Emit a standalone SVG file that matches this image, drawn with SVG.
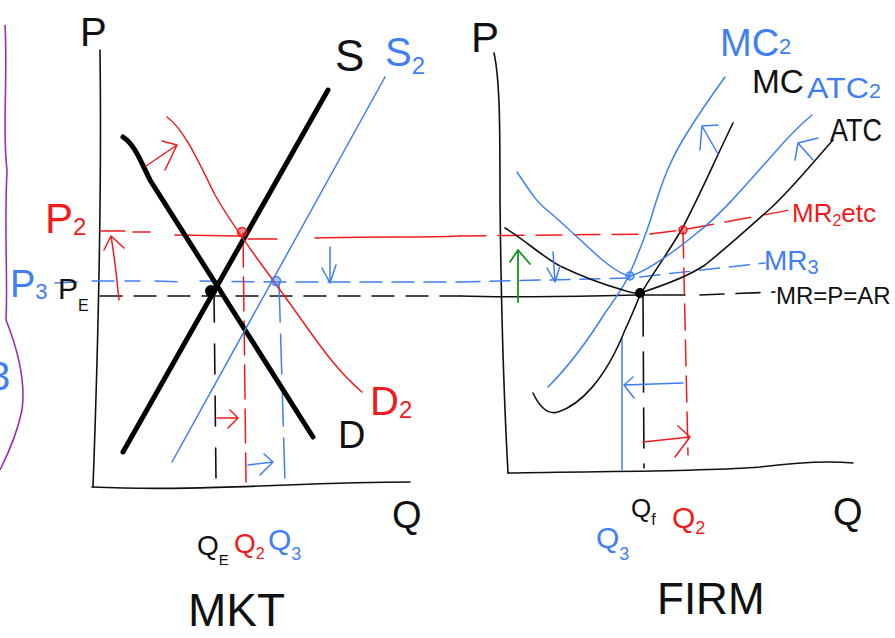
<svg xmlns="http://www.w3.org/2000/svg" width="895" height="638" viewBox="0 0 895 638">
<defs>
<style>
.k{stroke:#111;fill:none;stroke-width:1.6;stroke-linecap:round;stroke-linejoin:round}
.kt{stroke:#000;fill:none;stroke-width:5;stroke-linecap:round}
.r{stroke:#f21b1b;fill:none;stroke-width:1.5;stroke-linecap:round;stroke-linejoin:round}
.b{stroke:#3f7ff2;fill:none;stroke-width:1.5;stroke-linecap:round;stroke-linejoin:round}
.g{stroke:#15961f;fill:none;stroke-width:1.8;stroke-linecap:round;stroke-linejoin:round}
.p{stroke:#9a2fb5;fill:none;stroke-width:1.6}
text{font-family:"Liberation Sans","DejaVu Sans",sans-serif;font-weight:normal}
.tk{fill:#111}.tr{fill:#f21b1b}.tb{fill:#3f7ff2}
</style>
</defs>
<rect width="895" height="638" fill="#fff"/>

<!-- purple margin line -->
<path class="p" d="M5,25 C8,80 2,130 7,170 C4,230 8,280 6,320 C18,350 26,380 22,410 C18,430 10,450 0,470"/>
<text class="tb" x="-12" y="390" font-size="40">3</text>

<!-- MARKET PANEL -->
<g id="market-axes">
<path class="k" d="M100,50 C102,200 98,350 93,487"/>
<path class="k" d="M92,487 C200,492 300,482 410,482"/>
<text class="tk" x="80" y="46" font-size="40">P</text>
<text class="tk" x="392" y="528" font-size="38">Q</text>
</g>

<g id="market-guides">
<path class="r" d="M100,231 L125,231 M133,232 L150,232 M175,235 L240,236 M248,239 L277,239 M315,238 C380,236 420,238 460,236"/>
<path class="b" d="M55,283 L80,282 M92,281 L115,281 M125,281 L140,281 M155,281 L185,282 M200,281 L275,282 L460,282" stroke-dasharray="22 10"/>
<path class="k" d="M100,296 L460,296" stroke-dasharray="22 12"/>
<path class="k" d="M214,292 L216,480" stroke-dasharray="30 22"/>
<path class="r" d="M243,233 L246,482" stroke-dasharray="34 10"/>
<path class="b" d="M279,282 L285,482" stroke-dasharray="40 12"/>
</g>

<g id="market-curves">
<path class="kt" d="M123,452 L328,90"/>
<path class="kt" d="M123,137 C135,145 140,160 150,180 L313,437"/>
<path class="b" d="M172,462 L385,77"/>
<path class="r" d="M167,117 C185,130 200,165 215,195 C235,230 255,255 280,290 C310,330 330,365 362,392"/>
<circle cx="211" cy="291" r="6" fill="#000"/>
<circle cx="242" cy="232" r="4.5" fill="#f21b1b" fill-opacity="0.5" stroke="#f21b1b" stroke-width="1.5"/>
<circle cx="276" cy="281" r="4.5" fill="#3f7ff2" fill-opacity="0.4" stroke="#3f7ff2" stroke-width="1.5"/>
</g>

<g id="market-arrows">
<path class="r" d="M146,166 L177,145 M162,141 L177,145 L165,170"/>
<path class="r" d="M119,300 C117,280 115,260 111,236 M104,250 L111,236 L124,248"/>
<path class="b" d="M330,247 L330,283 M322,268 L330,283 L336,265"/>
<path class="r" d="M217,418 L238,418 M230,410 L238,418 L228,428"/>
<path class="b" d="M248,465 L273,462 M264,454 L273,462 L260,475"/>
</g>

<g id="market-labels">
<text class="tk" x="335" y="71" font-size="44">S</text>
<text class="tb" x="385" y="66" font-size="40">S<tspan font-size="24" dy="8">2</tspan></text>
<text class="tr" x="370" y="415" font-size="40">D<tspan font-size="24" dy="3">2</tspan></text>
<text class="tk" x="338" y="448" font-size="38">D</text>
<text class="tr" x="45" y="233" font-size="42">P<tspan font-size="24" dy="2">2</tspan></text>
<text class="tb" x="10" y="297" font-size="38">P<tspan font-size="22" dy="2">3</tspan></text>
<text class="tk" x="58" y="299" font-size="30">P<tspan font-size="16" dy="12">E</tspan></text>
<text class="tk" x="197" y="555" font-size="28">Q<tspan font-size="15" dy="10">E</tspan></text>
<text class="tr" x="234" y="553" font-size="28">Q<tspan font-size="16" dy="6">2</tspan></text>
<text class="tb" x="268" y="550" font-size="30">Q<tspan font-size="18" dy="10">3</tspan></text>
<text class="tk" x="188" y="626" font-size="46">MKT</text>
</g>

<!-- FIRM PANEL -->
<g id="firm-axes">
<path class="k" d="M494,53 C500,80 500,130 500,200 C501,300 504,400 508,473"/>
<path class="k" d="M508,473 C600,471 700,472 760,467 C800,462 830,461 853,463"/>
<text class="tk" x="471" y="52" font-size="42">P</text>
<text class="tk" x="833" y="525" font-size="38">Q</text>
</g>

<g id="firm-guides">
<path class="r" d="M460,236 L650,234 L682,230 L790,210" stroke-dasharray="26 12"/>
<path class="b" d="M460,282 L630,278 L765,263" stroke-dasharray="20 10"/>
<path class="k" d="M460,296 C520,298 580,296 640,295 L685,295"/>
<path class="k" d="M700,295 L775,292" stroke-dasharray="24 12"/>
<path class="b" d="M622,338 L622,470"/>
<path class="k" d="M643,296 L644,468" stroke-dasharray="40 16"/>
<path class="r" d="M683,232 L688,455" stroke-dasharray="26 10"/>
</g>

<g id="firm-curves">
<path class="b" d="M548,387 C565,370 585,345 605,313 C618,295 625,285 630,273 C640,250 648,230 655,205 C663,180 670,160 687,133 C700,112 712,95 725,77"/>
<path class="k" d="M533,393 C540,408 548,415 558,412 C580,405 605,380 625,330 C632,315 636,305 640,295 C655,270 670,250 683,227 C700,195 715,160 733,123"/>
<path class="b" d="M517,172 C528,188 536,202 547,210 C565,225 580,240 600,258 C612,268 622,275 630,276 C645,272 670,255 697,233 C720,215 740,192 777,150 C790,135 800,125 812,115"/>
<path class="k" d="M505,228 C525,240 540,255 560,266 C585,278 605,285 623,290 C632,293 636,294 640,293 C665,285 690,275 705,265 C730,245 752,225 772,207 C795,185 815,160 833,140"/>
<circle cx="640" cy="293" r="5" fill="#000"/>
<circle cx="630" cy="276" r="4" fill="#3f7ff2" fill-opacity="0.4" stroke="#3f7ff2" stroke-width="1.5"/>
<circle cx="683" cy="230" r="4" fill="#f21b1b" fill-opacity="0.5" stroke="#f21b1b" stroke-width="1.5"/>
</g>

<g id="firm-arrows">
<path class="g" d="M518,302 L518,250 M510,262 L518,250 L530,264"/>
<path class="b" d="M553,252 L555,282 M547,268 L555,282 L560,266"/>
<path class="b" d="M718,154 L702,126 M700,150 L702,126 L718,125"/>
<path class="b" d="M813,160 L798,143 M795,160 L798,143 L818,138"/>
<path class="b" d="M683,383 L624,385 M633,377 L624,385 L634,398"/>
<path class="r" d="M643,442 L690,437 M678,426 L690,437 L675,457"/>
</g>

<g id="firm-labels">
<text class="tb" x="720" y="56" font-size="38">MC<tspan font-size="22" dy="-2">2</tspan></text>
<text class="tk" x="752" y="93" font-size="34" textLength="52" lengthAdjust="spacingAndGlyphs">MC</text>
<text class="tb" x="807" y="98" font-size="30" textLength="74" lengthAdjust="spacingAndGlyphs">ATC<tspan font-size="20">2</tspan></text>
<text class="tk" x="830" y="141" font-size="32" textLength="52" lengthAdjust="spacingAndGlyphs">ATC</text>
<text class="tr" x="792" y="222" font-size="26">MR<tspan font-size="16" dy="4">2</tspan><tspan dy="-4">etc</tspan></text>
<text class="tb" x="764" y="270" font-size="28">MR<tspan font-size="20" dy="4">3</tspan></text>
<text class="tk" x="776" y="304" font-size="24">MR=P=AR</text>
<text class="tb" x="596" y="548" font-size="30">Q<tspan font-size="18" dy="12">3</tspan></text>
<text class="tk" x="631" y="517" font-size="26">Q<tspan font-size="16" dy="8">f</tspan></text>
<text class="tr" x="672" y="528" font-size="30">Q<tspan font-size="18" dy="6">2</tspan></text>
<text class="tk" x="657" y="614" font-size="44">FIRM</text>
</g>
</svg>
